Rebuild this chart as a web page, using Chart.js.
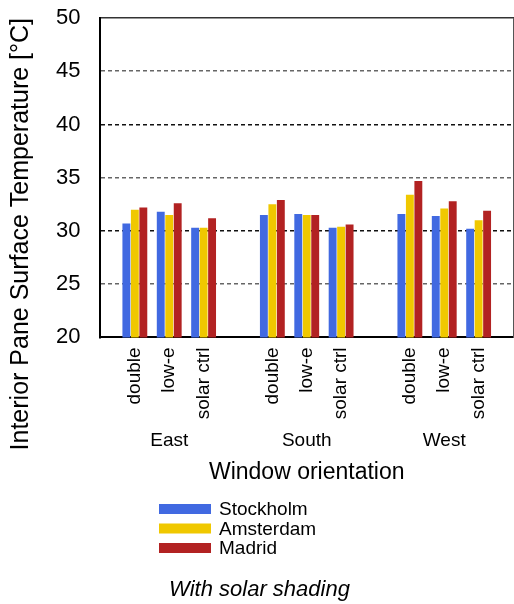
<!DOCTYPE html>
<html>
<head>
<meta charset="utf-8">
<script src="https://cdn.jsdelivr.net/npm/chart.js@4/dist/chart.umd.min.js"></script>
<style>
  html, body { margin: 0; padding: 0; background: #fff; }
  #wrap { width: 514px; height: 604px; position: relative; }
</style>
</head>
<body>
<div id="wrap"><canvas id="c"></canvas></div>
<script>
// ---- data ----
const orientations = ['East', 'South', 'West'];
const windowTypes = ['double', 'low-e', 'solar ctrl'];
const seriesNames = ['Stockholm', 'Amsterdam', 'Madrid'];
const stockholm = [30.7, 31.8, 30.3, 31.5, 31.6, 30.3, 31.6, 31.4, 30.2];
const amsterdam = [32.0, 31.5, 30.3, 32.5, 31.5, 30.4, 33.4, 32.1, 31.0];
const madrid    = [32.2, 32.6, 31.2, 32.9, 31.5, 30.6, 34.7, 32.8, 31.9];
const yTicks = [20, 25, 30, 35, 40, 45, 50];
const seriesColors = ['#4169E1', '#F0C800', '#B22222'];

// build category slots: empty slot before each orientation group and one at the end
const labels = [];
const groupLabels = [];
orientations.forEach((o) => {
  labels.push(''); groupLabels.push('');
  windowTypes.forEach((w, j) => { labels.push(w); groupLabels.push(j === 1 ? o : ''); });
});
labels.push(''); groupLabels.push('');

function spread(values) {
  const out = [];
  let k = 0;
  orientations.forEach(() => {
    out.push(null);
    windowTypes.forEach(() => { out.push(values[k++]); });
  });
  out.push(null);
  return out;
}
const seriesValues = [stockholm, amsterdam, madrid];

Chart.defaults.font.family = '"Liberation Sans", Arial, sans-serif';
Chart.defaults.color = '#000';

const customLegend = {
  id: 'customLegend',
  afterDraw(chart, args, opts) {
    const ctx = chart.ctx;
    ctx.save();
    ctx.font = opts.fontSize + 'px "Liberation Sans", Arial, sans-serif';
    ctx.textBaseline = 'middle';
    ctx.textAlign = 'left';
    chart.data.datasets.forEach((ds, i) => {
      const y = opts.top + i * opts.rowHeight;
      ctx.fillStyle = ds.backgroundColor;
      ctx.fillRect(opts.left, y, opts.boxWidth, opts.boxHeight);
      ctx.fillStyle = '#000';
      ctx.fillText(ds.label, opts.left + opts.boxWidth + opts.gap, y + opts.boxHeight / 2 + 1);
    });
    ctx.restore();
  }
};

new Chart(document.getElementById('c'), {
  type: 'bar',
  data: {
    labels: labels,
    datasets: seriesNames.map((name, i) => ({
      label: name,
      data: spread(seriesValues[i]),
      backgroundColor: seriesColors[i],
      borderWidth: 0,
      barPercentage: 0.93,
      categoryPercentage: 0.74
    }))
  },
  plugins: [customLegend],
  options: {
    responsive: true,
    maintainAspectRatio: false,
    animation: false,
    layout: { padding: { top: 18, right: 1, left: 6, bottom: 0 } },
    plugins: {
      legend: { display: false },
      tooltip: { enabled: false },
      title: {
        display: true,
        position: 'bottom',
        text: 'With solar shading',
        font: { size: 22, style: 'italic', weight: 'normal' },
        color: '#000',
        padding: { top: 88, bottom: 1 }
      },
      customLegend: { left: 159, top: 504, rowHeight: 19.5, boxWidth: 52, boxHeight: 10, gap: 8, fontSize: 19 }
    },
    scales: {
      x: {
        type: 'category',
        position: 'bottom',
        weight: 0,
        offset: false,
        grid: { display: false, drawTicks: false },
        border: { display: true, color: '#000', width: 2 },
        ticks: { autoSkip: false, minRotation: 90, maxRotation: 90, padding: 10, font: { size: 19 }, color: '#000' },
        afterFit(s) { s.paddingLeft = 0; s.paddingRight = 0; }
      },
      x2: {
        type: 'category',
        position: 'bottom',
        weight: 1,
        offset: false,
        labels: groupLabels,
        grid: { display: false, drawTicks: false },
        border: { display: false },
        ticks: { autoSkip: false, minRotation: 0, maxRotation: 0, padding: 0, font: { size: 19 }, color: '#000' },
        title: { display: true, text: 'Window orientation', font: { size: 23 }, color: '#000', padding: { top: 7, bottom: 2 } },
        afterFit(s) { s.paddingLeft = 0; s.paddingRight = 0; }
      },
      xTop: {
        type: 'category',
        position: 'top',
        offset: false,
        labels: labels,
        grid: { display: false, drawTicks: false },
        border: { display: true, color: '#333', width: 1.5 },
        ticks: { display: false },
        afterFit(s) { s.paddingLeft = 0; s.paddingRight = 0; }
      },
      y: {
        type: 'linear',
        position: 'left',
        min: yTicks[0],
        max: yTicks[yTicks.length - 1],
        afterBuildTicks(s) { s.ticks = yTicks.map(v => ({ value: v })); },
        afterFit(s) { s.paddingTop = 0; s.paddingBottom = 0; },
        ticks: { padding: 20, font: { size: 22 }, color: '#000' },
        grid: {
          drawTicks: false,
          lineWidth: 1.5,
          color: (c) => {
            const v = c.tick && c.tick.value;
            if (v === 20 || v === 50) return 'rgba(0,0,0,0)';
            return v % 10 === 0 ? '#111' : '#666';
          }
        },
        border: { display: true, color: '#000', width: 2, dash: [4, 3] },
        title: { display: true, text: 'Interior Pane Surface Temperature [°C]', align: 'end', font: { size: 25 }, color: '#000', padding: { top: 0, bottom: 0 } }
      },
      yR: {
        type: 'linear',
        position: 'right',
        min: yTicks[0],
        max: yTicks[yTicks.length - 1],
        grid: { display: false, drawTicks: false },
        border: { display: true, color: '#555', width: 1 },
        ticks: { display: false }
      }
    }
  }
});
</script>
</body>
</html>
